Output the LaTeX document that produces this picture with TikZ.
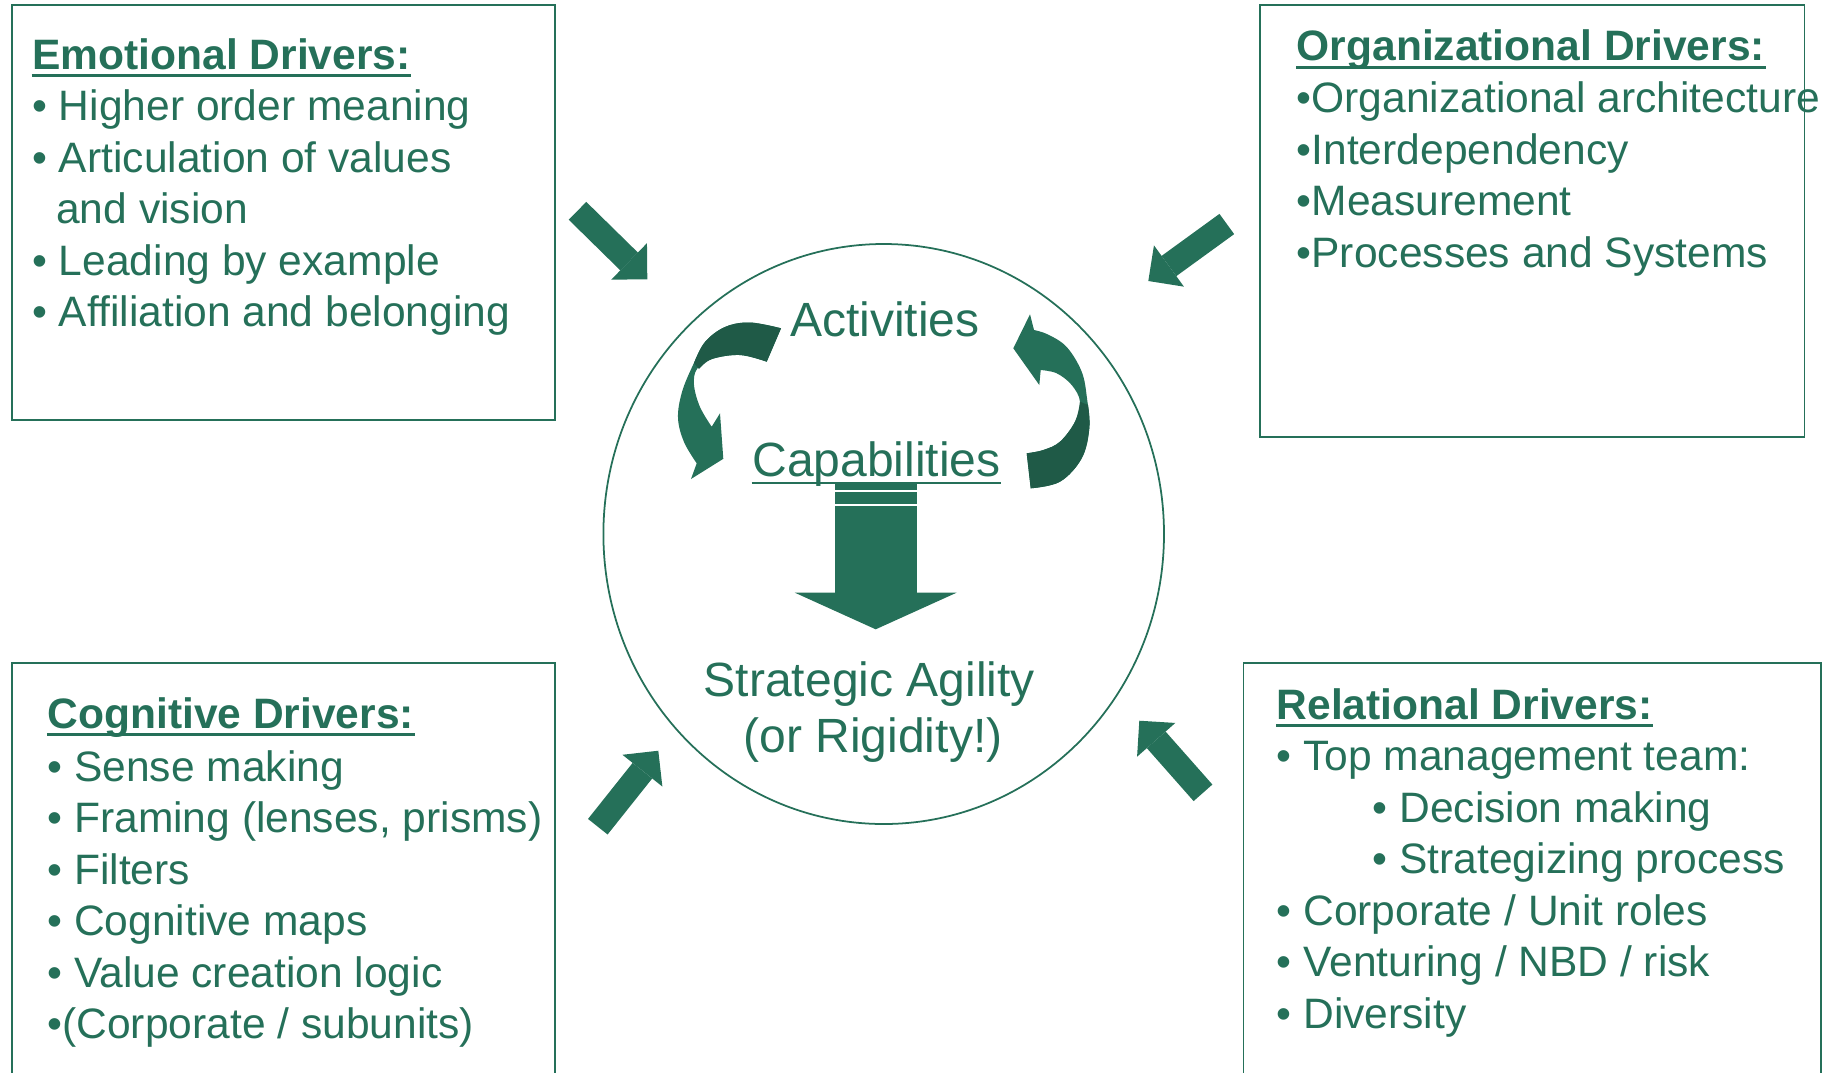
\documentclass[tikz,border=0pt]{standalone}
\usepackage{fontspec}
\setmainfont{Liberation Sans}
\usetikzlibrary{arrows.meta}

\definecolor{drvgreen}{RGB}{37,112,89}
\definecolor{drvdark}{RGB}{31,90,71}

\begin{document}
\begin{tikzpicture}[x=0.01cm, y=-0.01cm,
        every node/.style={text=drvgreen, inner sep=0pt},
        frame/.style={draw=drvgreen, line width=0.5pt},
        drvtitle/.style={anchor=base west, font=\fontsize{12.1pt}{14.65pt}\selectfont\bfseries},
        drvlist/.style={anchor=base west, font=\fontsize{12.1pt}{14.65pt}\selectfont},
        corelabel/.style={anchor=base, font=\fontsize{13.66pt}{15.9pt}\selectfont},
        uline/.style={draw=drvgreen, line width=0.85pt},
        feed/.style={draw=drvgreen, line width=0.25cm,
            -{Triangle[length=0.255cm, width=0.51cm, line width=0pt]}}]

        \useasboundingbox (0,0) rectangle (1836,1072);

        % the four driver boxes
        \draw[frame] (11.7,4.7) rectangle (555,420);
        \draw[frame] (1260,4.7) rectangle (1804.5,436.8);
        \draw[frame] (11.7,1080) |- (555,662.8) -- (555,1080);
        \draw[frame] (1243.6,1080) |- (1821,662.8) -- (1821,1080);

        \node[drvtitle] (emoHead) at (31.6,69.2) {Emotional Drivers:};
        \node[drvlist] (emoList) at (31.6,120.8) {\vtop{%
            \hbox{• Higher order meaning}
            \hbox{• Articulation of values}
            \hbox{\hspace*{0.24cm}and vision}
            \hbox{• Leading by example}
            \hbox{• Affiliation and belonging}}};

        \node[drvtitle] (orgHead) at (1296,60.9) {Organizational Drivers:};
        \node[drvlist] (orgList) at (1296,112.5) {\vtop{%
            \hbox{•Organizational architecture}
            \hbox{•Interdependency}
            \hbox{•Measurement}
            \hbox{•Processes and Systems}}};

        \node[drvtitle] (cogHead) at (46.8,728.2) {Cognitive Drivers:};
        \node[drvlist] (cogList) at (46.8,781.2) {\vtop{%
            \hbox{• Sense making}
            \hbox{• Framing (lenses, prisms)}
            \hbox{• Filters}
            \hbox{• Cognitive maps}
            \hbox{• Value creation logic}
            \hbox{•(Corporate / subunits)}}};

        \node[drvtitle] (relHead) at (1276,719) {Relational Drivers:};
        \node[drvlist] (relList) at (1276,770.7) {\vtop{%
            \hbox{• Top management team:}
            \hbox{\hspace*{0.96cm}• Decision making}
            \hbox{\hspace*{0.96cm}• Strategizing process}
            \hbox{• Corporate / Unit roles}
            \hbox{• Venturing / NBD / risk}
            \hbox{• Diversity}}};

        \foreach \h in {emoHead, orgHead, cogHead, relHead}
            \draw[uline] ([yshift=-0.065cm]\h.base west) -- ([yshift=-0.065cm]\h.base east);

        % centre circle
        \draw[frame] (883.7,534) ellipse [x radius=280.3, y radius=290];

        \node[corelabel] (act) at (884.8,336.5) {Activities};
        \node[corelabel] (cap) at (876.5,476.7) {Capabilities};
        \draw[drvgreen, line width=0.6pt] ([yshift=-0.06cm]cap.base west) -- ([yshift=-0.06cm]cap.base east);
        \node[corelabel] (agil) at (869.4,696) {Strategic Agility};
        \node[corelabel] (rigid) at (873,752.5) {(or Rigidity!)};

        % loop from activities down to capabilities
        \fill[drvgreen] plot[smooth, tension=0.6] coordinates {(781,328.3) (750,322.5) (725,327) (705,342)
                (693,365) (682,392) (678,418) (684,442) (696.7,463.3)}
            -- (691,479) -- (723.3,458.8) -- (720,413.3) -- (711.7,426.7)
            -- plot[smooth, tension=0.6] coordinates {(711.7,426.7) (700,407) (694,385) (697,369)
                (712,359) (740,355) (766.7,361.7)} -- cycle;
        \fill[drvdark] plot[smooth, tension=0.6] coordinates {(781,328.3) (750,322.5) (725,327) (705,342) (694,363)}
            -- (699,369)
            -- plot[smooth, tension=0.6] coordinates {(699,369) (712,359) (740,355) (766.7,361.7)} -- cycle;

        % loop from capabilities back up to activities
        \fill[drvgreen] plot[smooth, tension=0.6] coordinates {(1030.7,488.3) (1060,481.7) (1081.7,458.3)
                (1089.3,428.3) (1087,398.3) (1081.7,371.7) (1066.7,347) (1048,334.5) (1034,330)}
            -- (1030,314.3) -- (1013.3,348.3) -- (1039.3,385) -- (1040.7,370)
            -- plot[smooth, tension=0.6] coordinates {(1040.7,370) (1056.7,373.3) (1071.7,385)
                (1080,401.7) (1075,421.7) (1060,441.7) (1043.3,450) (1026.7,453.3)} -- cycle;
        \fill[drvdark] plot[smooth, tension=0.6] coordinates {(1030.7,488.3) (1060,481.7) (1081.7,458.3)
                (1089.3,428.3) (1088,405)}
            -- (1080,401.7)
            -- plot[smooth, tension=0.6] coordinates {(1080,401.7) (1075,421.7) (1060,441.7)
                (1043.3,450) (1026.7,453.3)} -- cycle;

        % capabilities feed strategic agility
        \coordinate (capFrom) at (875.7,484);
        \coordinate (capTo) at (875.7,629.3);
        \draw[drvgreen, line width=0.82cm, -{Triangle[length=0.366cm, width=1.617cm, line width=0pt]}] (capFrom) -- (capTo);
        \draw[white, line width=0.6pt] (834.7,491) -- (916.7,491) (834.7,505.3) -- (916.7,505.3);

        % drivers pushing into the circle
        \coordinate (emoFrom) at (577.5,210.8);
        \coordinate (emoTo) at (647.3,279.3);
        \coordinate (orgFrom) at (1226.8,224);
        \coordinate (orgTo) at (1148.3,281);
        \coordinate (cogFrom) at (597.8,826.7);
        \coordinate (cogTo) at (658.3,750.7);
        \coordinate (relFrom) at (1203,792.8);
        \coordinate (relTo) at (1139.3,720.7);

        \draw[feed] (emoFrom) -- (emoTo);
        \draw[feed] (orgFrom) -- (orgTo);
        \draw[feed] (cogFrom) -- (cogTo);
        \draw[feed] (relFrom) -- (relTo);
    \end{tikzpicture}
\end{document}
